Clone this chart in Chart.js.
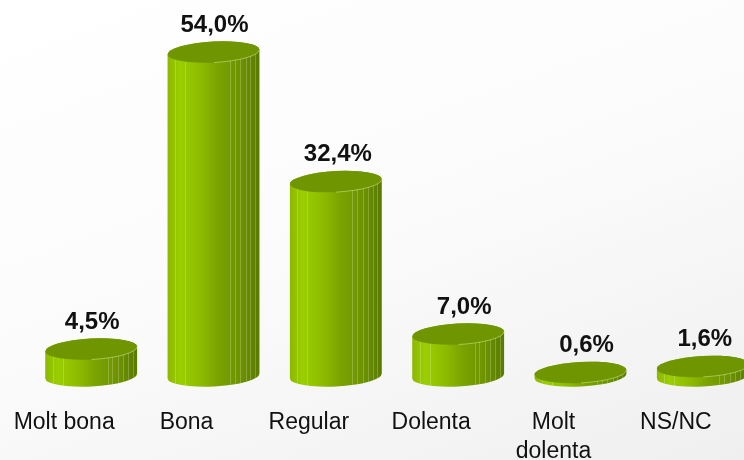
<!DOCTYPE html>
<html>
<head>
<meta charset="utf-8">
<script src="https://cdn.jsdelivr.net/npm/chart.js@4"></script>
<style>
  html, body { margin: 0; padding: 0; width: 744px; height: 460px; overflow: hidden; }
  body { background: linear-gradient(160deg, #ffffff 0%, #fbfbfb 50%, #efefef 100%); }
  canvas { display: block; }
</style>
</head>
<body>
<canvas id="chart" width="764" height="460"></canvas>
<script>
const categories = ["Molt bona", "Bona", "Regular", "Dolenta", "Molt dolenta", "NS/NC"];
const tickLabels = ["Molt bona", "Bona", "Regular", "Dolenta", ["Molt", "dolenta"], "NS/NC"];
const percentages = [4.5, 54.0, 32.4, 7.0, 0.6, 1.6];

// the last cylinder runs off the right edge, so the canvas is a bit wider than the page
const tilt = -3 * Math.PI / 180;
const capHeight = 10.5;
const facets = [0.08, 0.19, 0.68, 0.73, 0.79, 0.85, 0.9, 0.95];
const labelShift = [1, 1, 2, 6, 6, 2];

const cylinders = {
  id: 'cylinders',
  afterDatasetsDraw(chart) {
    const ctx = chart.ctx;
    chart.getDatasetMeta(0).data.forEach((bar, i) => {
      const a = bar.width / 2;
      const left = bar.x - a;

      ctx.save();
      ctx.beginPath();
      ctx.ellipse(bar.x, bar.base, a, capHeight, tilt, 0, Math.PI);
      ctx.ellipse(bar.x, bar.y, a, capHeight, tilt, Math.PI, 0);
      ctx.closePath();
      const side = ctx.createLinearGradient(left, 0, left + bar.width, 0);
      side.addColorStop(0, '#8cb800');
      side.addColorStop(0.14, '#9bcf00');
      side.addColorStop(0.38, '#8cb900');
      side.addColorStop(0.55, '#7aa300');
      side.addColorStop(0.8, '#6d9200');
      side.addColorStop(1, '#587a00');
      ctx.fillStyle = side;
      ctx.fill();
      ctx.clip();

      ctx.strokeStyle = 'rgba(255,255,255,0.22)';
      ctx.lineWidth = 1;
      facets.forEach(f => {
        const fx = Math.round(left + f * bar.width) + 0.5;
        ctx.beginPath();
        ctx.moveTo(fx, bar.y);
        ctx.lineTo(fx, bar.base + capHeight);
        ctx.stroke();
      });
      ctx.restore();

      ctx.beginPath();
      ctx.ellipse(bar.x, bar.y, a, capHeight, tilt, 0, Math.PI * 2);
      ctx.fillStyle = '#6f9600';
      ctx.fill();

      // thin light rim along the front of the cap
      ctx.beginPath();
      ctx.ellipse(bar.x, bar.y, a, capHeight, tilt, 0, Math.PI / 2);
      ctx.strokeStyle = 'rgba(200,225,130,0.6)';
      ctx.lineWidth = 1;
      ctx.stroke();

      ctx.fillStyle = '#111111';
      ctx.font = 'bold 24px "Liberation Sans"';
      ctx.textAlign = 'center';
      ctx.textBaseline = 'middle';
      const text = percentages[i].toFixed(1).replace('.', ',') + '%';
      ctx.fillText(text, bar.x + labelShift[i], bar.y - 27);
    });
  }
};

new Chart(document.getElementById('chart'), {
  type: 'bar',
  data: {
    labels: tickLabels,
    datasets: [{
      label: 'Valoració',
      data: percentages,
      backgroundColor: 'rgba(0,0,0,0)',
      barPercentage: 0.752,
      categoryPercentage: 1
    }]
  },
  options: {
    responsive: false,
    animation: false,
    layout: { padding: { top: 16, left: 30, right: 0, bottom: 0 } },
    plugins: {
      legend: { display: false },
      title: { display: false },
      tooltip: { enabled: false }
    },
    scales: {
      x: {
        border: { display: false },
        grid: { display: false },
        afterFit(scale) { scale.height = 84; },
        ticks: {
          color: '#111111',
          font: { family: '"Liberation Sans"', size: 23, lineHeight: 1.27 },
          labelOffset: -27,
          maxRotation: 0,
          padding: 24
        }
      },
      y: { display: false, min: 0, max: 60 }
    }
  },
  plugins: [cylinders]
});
</script>
</body>
</html>
